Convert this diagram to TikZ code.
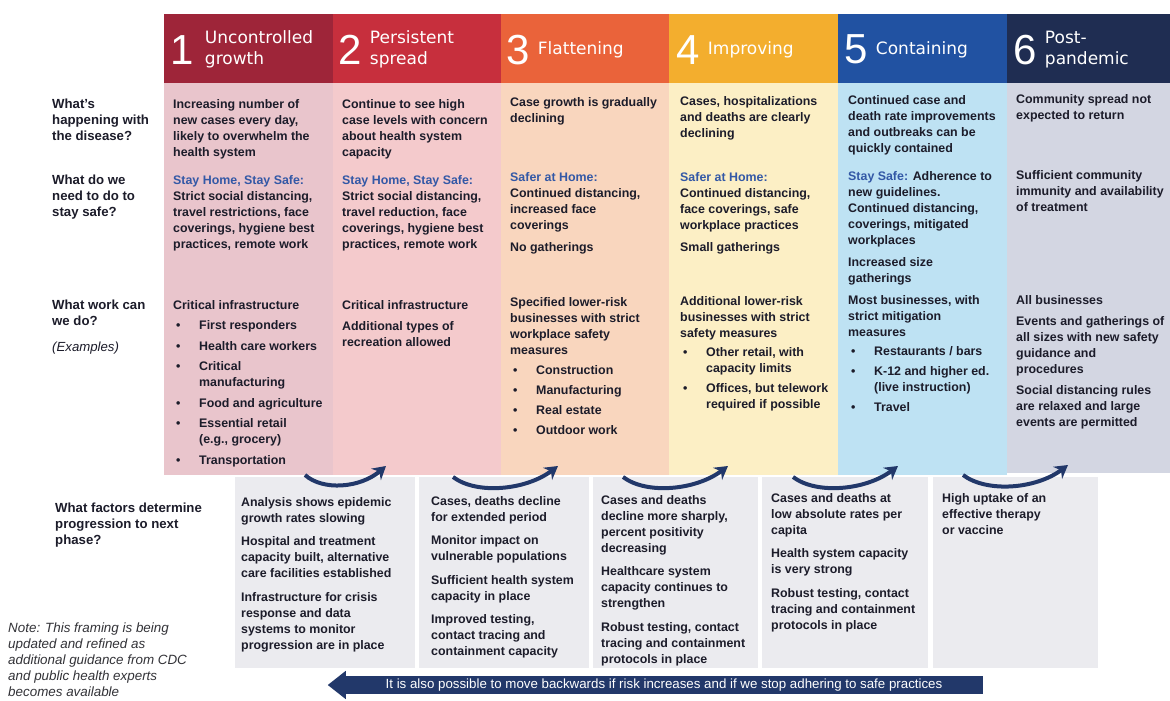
\documentclass[tikz,border=0pt]{standalone}
\usepackage{fontspec}
\setmainfont{Liberation Sans}
\newfontfamily\headfont{DejaVu Sans}
\usetikzlibrary{positioning,arrows.meta}

\definecolor{ink}{HTML}{1C1C2A}
\definecolor{stayblue}{HTML}{3358A6}
\definecolor{navy}{HTML}{22386A}
\definecolor{boxgray}{HTML}{EBEBEF}
\definecolor{notegray}{HTML}{333338}
\definecolor{head1}{HTML}{9E2539}
\definecolor{head2}{HTML}{C72F3D}
\definecolor{head3}{HTML}{EA633A}
\definecolor{head4}{HTML}{F3AE2E}
\definecolor{head5}{HTML}{2152A2}
\definecolor{head6}{HTML}{1F2D52}
\definecolor{body1}{HTML}{E9C5CC}
\definecolor{body2}{HTML}{F4CACC}
\definecolor{body3}{HTML}{F9D6BE}
\definecolor{body4}{HTML}{FCEFC5}
\definecolor{body5}{HTML}{BEE2F3}
\definecolor{body6}{HTML}{D3D6E2}

\newcommand{\bitem}{\hspace*{3pt}\makebox[23pt][l]{\textbullet}}
\newcommand{\bcont}{\hspace*{26pt}}

\tikzset{
    phase-head/.style = {rectangle, inner sep=0pt, anchor=north west, minimum height=69pt},
    phase-body/.style = {rectangle, inner sep=0pt, anchor=north west, minimum height=392pt},
    phase-num/.style = {inner sep=0pt, anchor=west, text=white, font=\fontsize{42}{42}\selectfont},
    phase-title/.style = {inner sep=0pt, text=white, align=left, font=\headfont\fontsize{17}{21}\selectfont},
    cell-text/.style = {anchor=north west, inner sep=0pt, align=left, text=ink, font=\bfseries\fontsize{12.4}{16}\selectfont},
    row-label/.style = {cell-text, font=\bfseries\fontsize{13.2}{16}\selectfont},
    factor-box/.style = {rectangle, fill=boxgray, inner sep=0pt, anchor=north west, minimum height=191pt},
    next-arrow/.style = {draw=navy, line width=4pt, -{Stealth[length=13pt, width=15pt]}},
}

\begin{document}
\begin{tikzpicture}[x=1pt, y=-1pt]
\useasboundingbox (0,0) rectangle (1170,701);
\fill[white] (0,0) rectangle (1170,701);

% phase columns
\node[phase-body, fill=body1, minimum width=169pt] (body1) at (164,83) {};
\node[phase-body, fill=body2, minimum width=168pt] (body2) at (333,83) {};
\node[phase-body, fill=body3, minimum width=168pt] (body3) at (501,83) {};
\node[phase-body, fill=body4, minimum width=169pt] (body4) at (669,83) {};
\node[phase-body, fill=body5, minimum width=169pt] (body5) at (838,83) {};
\node[phase-body, fill=body6, minimum width=163pt, minimum height=390pt] (body6) at (1007,83) {};

\node[phase-head, fill=head1, minimum width=169pt] (head1) at (164,14) {};
\node[phase-head, fill=head2, minimum width=168pt] (head2) at (333,14) {};
\node[phase-head, fill=head3, minimum width=168pt] (head3) at (501,14) {};
\node[phase-head, fill=head4, minimum width=169pt] (head4) at (669,14) {};
\node[phase-head, fill=head5, minimum width=169pt] (head5) at (838,14) {};
\node[phase-head, fill=head6, minimum width=163pt] (head6) at (1007,14) {};

\node[phase-num] (num1) at ([xshift=6pt, yshift=-1pt]head1.west) {1};
\node[phase-title, right=11pt of num1] (title1) {Uncontrolled\\growth};
\node[phase-num] (num2) at ([xshift=5pt, yshift=-1pt]head2.west) {2};
\node[phase-title, right=8pt of num2] (title2) {Persistent\\spread};
\node[phase-num] (num3) at ([xshift=5pt, yshift=-1pt]head3.west) {3};
\node[phase-title, right=8pt of num3] (title3) {Flattening};
\node[phase-num] (num4) at ([xshift=7pt, yshift=-1pt]head4.west) {4};
\node[phase-title, right=8pt of num4] (title4) {Improving};
\node[phase-num] (num5) at ([xshift=6pt, yshift=-1pt]head5.west) {5};
\node[phase-title, right=8pt of num5] (title5) {Containing};
\node[phase-num] (num6) at ([xshift=6pt, yshift=-1pt]head6.west) {6};
\node[phase-title, right=8pt of num6] (title6) {Post-\\pandemic};

% factor boxes
\node[factor-box, minimum width=180pt] (factor1) at (235,477) {};
\node[factor-box, minimum width=170pt] (factor2) at (419,477) {};
\node[factor-box, minimum width=165pt] (factor3) at (593,477) {};
\node[factor-box, minimum width=166pt] (factor4) at (762,477) {};
\node[factor-box, minimum width=165pt] (factor5) at (933,477) {};

% progression arrows
\coordinate (up1-from) at (305,475);
\coordinate (up1-to) at (386,466);
\coordinate (up2-from) at (453,477);
\coordinate (up2-to) at (558,466);
\coordinate (up3-from) at (623,477);
\coordinate (up3-to) at (728,466);
\coordinate (up4-from) at (793,477);
\coordinate (up4-to) at (898,466);
\coordinate (up5-from) at (963,475);
\coordinate (up5-to) at (1068,465);
\draw[next-arrow] (up1-from) .. controls +(18,16) and +(-26,22) .. (up1-to);
\draw[next-arrow] (up2-from) .. controls +(24,18) and +(-32,24) .. (up2-to);
\draw[next-arrow] (up3-from) .. controls +(24,18) and +(-32,24) .. (up3-to);
\draw[next-arrow] (up4-from) .. controls +(24,18) and +(-32,24) .. (up4-to);
\draw[next-arrow] (up5-from) .. controls +(24,18) and +(-32,24) .. (up5-to);

% backwards arrow
\node[rectangle, fill=navy, inner sep=0pt, minimum width=638pt, minimum height=18pt, text=white, font=\fontsize{13.3}{14}\selectfont] (back) at (664,685) {It is also possible to move backwards if risk increases and if we stop adhering to safe practices};
\fill[navy] ([xshift=1pt, yshift=5pt]back.north west) -- ([xshift=-17pt]back.west) -- ([xshift=1pt, yshift=-5pt]back.south west) -- cycle;

% row labels
\node[row-label] (ask1) at (52,99) {What's\\happening with\\the disease?};
\node[row-label] (ask2) at (52,175) {What do we\\need to do to\\stay safe?};
\node[row-label] (ask3) at (52,300) {What work can\\we do?\\[10pt]{\mdseries\itshape (Examples)}};
\node[row-label] (ask4) at (55,503) {What factors determine\\progression to next\\phase?};
\node[cell-text, text=notegray, font=\itshape\fontsize{13.4}{16}\selectfont] (note) at (8,623) {Note: This framing is being\\updated and refined as\\additional guidance from CDC\\and public health experts\\becomes available};

% column 1
\node[cell-text] (happen1) at (173,99) {Increasing number of\\new cases every day,\\likely to overwhelm the\\health system};
\node[cell-text] (safe1) at (173,175) {{\color{stayblue}Stay Home, Stay Safe:}\\Strict social distancing,\\travel restrictions, face\\coverings, hygiene best\\practices, remote work};
\node[cell-text] (work1) at (173,300) {Critical infrastructure\\[4.5pt]\bitem First responders\\[4.5pt]\bitem Health care workers\\[4.5pt]\bitem Critical\\\bcont manufacturing\\[4.5pt]\bitem Food and agriculture\\[4.5pt]\bitem Essential retail\\\bcont (e.g., grocery)\\[4.5pt]\bitem Transportation};

% column 2
\node[cell-text] (happen2) at (342,99) {Continue to see high\\case levels with concern\\about health system\\capacity};
\node[cell-text] (safe2) at (342,175) {{\color{stayblue}Stay Home, Stay Safe:}\\Strict social distancing,\\travel reduction, face\\coverings, hygiene best\\practices, remote work};
\node[cell-text] (work2) at (342,300) {Critical infrastructure\\[5pt]Additional types of\\recreation allowed};

% column 3
\node[cell-text] (happen3) at (510,97) {Case growth is gradually\\declining};
\node[cell-text] (safe3) at (510,172) {{\color{stayblue}Safer at Home:}\\Continued distancing,\\increased face\\coverings\\[6pt]No gatherings};
\node[cell-text] (work3) at (510,297) {Specified lower-risk\\businesses with strict\\workplace safety\\measures\\[4pt]\bitem Construction\\[4pt]\bitem Manufacturing\\[4pt]\bitem Real estate\\[4pt]\bitem Outdoor work};

% column 4
\node[cell-text] (happen4) at (680,96) {Cases, hospitalizations\\and deaths are clearly\\declining};
\node[cell-text] (safe4) at (680,172) {{\color{stayblue}Safer at Home:}\\Continued distancing,\\face coverings, safe\\workplace practices\\[6pt]Small gatherings};
\node[cell-text] (work4) at (680,296) {Additional lower-risk\\businesses with strict\\safety measures\\[3pt]\bitem Other retail, with\\\bcont capacity limits\\[4pt]\bitem Offices, but telework\\\bcont required if possible};

% column 5
\node[cell-text] (happen5) at (848,95) {Continued case and\\death rate improvements\\and outbreaks can be\\quickly contained};
\node[cell-text] (safe5) at (848,171) {{\color{stayblue}Stay Safe:} Adherence to\\new guidelines.\\Continued distancing,\\coverings, mitigated\\workplaces\\[6pt]Increased size\\gatherings};
\node[cell-text] (work5) at (848,295) {Most businesses, with\\strict mitigation\\measures\\[3pt]\bitem Restaurants / bars\\[4pt]\bitem K-12 and higher ed.\\\bcont (live instruction)\\[4pt]\bitem Travel};

% column 6
\node[cell-text] (happen6) at (1016,94) {Community spread not\\expected to return};
\node[cell-text] (safe6) at (1016,170) {Sufficient community\\immunity and availability\\of treatment};
\node[cell-text] (work6) at (1016,295) {All businesses\\[5pt]Events and gatherings of\\all sizes with new safety\\guidance and\\procedures\\[5pt]Social distancing rules\\are relaxed and large\\events are permitted};

% factors text
\node[cell-text] (next1) at (241,497) {Analysis shows epidemic\\growth rates slowing\\[7.5pt]Hospital and treatment\\capacity built, alternative\\care facilities established\\[7.5pt]Infrastructure for crisis\\response and data\\systems to monitor\\progression are in place};
\node[cell-text] (next2) at (431,496) {Cases, deaths decline\\for extended period\\[7.5pt]Monitor impact on\\vulnerable populations\\[7.5pt]Sufficient health system\\capacity in place\\[7.5pt]Improved testing,\\contact tracing and\\containment capacity};
\node[cell-text] (next3) at (601,495) {Cases and deaths\\decline more sharply,\\percent positivity\\decreasing\\[7.5pt]Healthcare system\\capacity continues to\\strengthen\\[7.5pt]Robust testing, contact\\tracing and containment\\protocols in place};
\node[cell-text] (next4) at (771,493) {Cases and deaths at\\low absolute rates per\\capita\\[7.5pt]Health system capacity\\is very strong\\[7.5pt]Robust testing, contact\\tracing and containment\\protocols in place};
\node[cell-text] (next5) at (942,493) {High uptake of an\\effective therapy\\or vaccine};
\end{tikzpicture}
\end{document}
